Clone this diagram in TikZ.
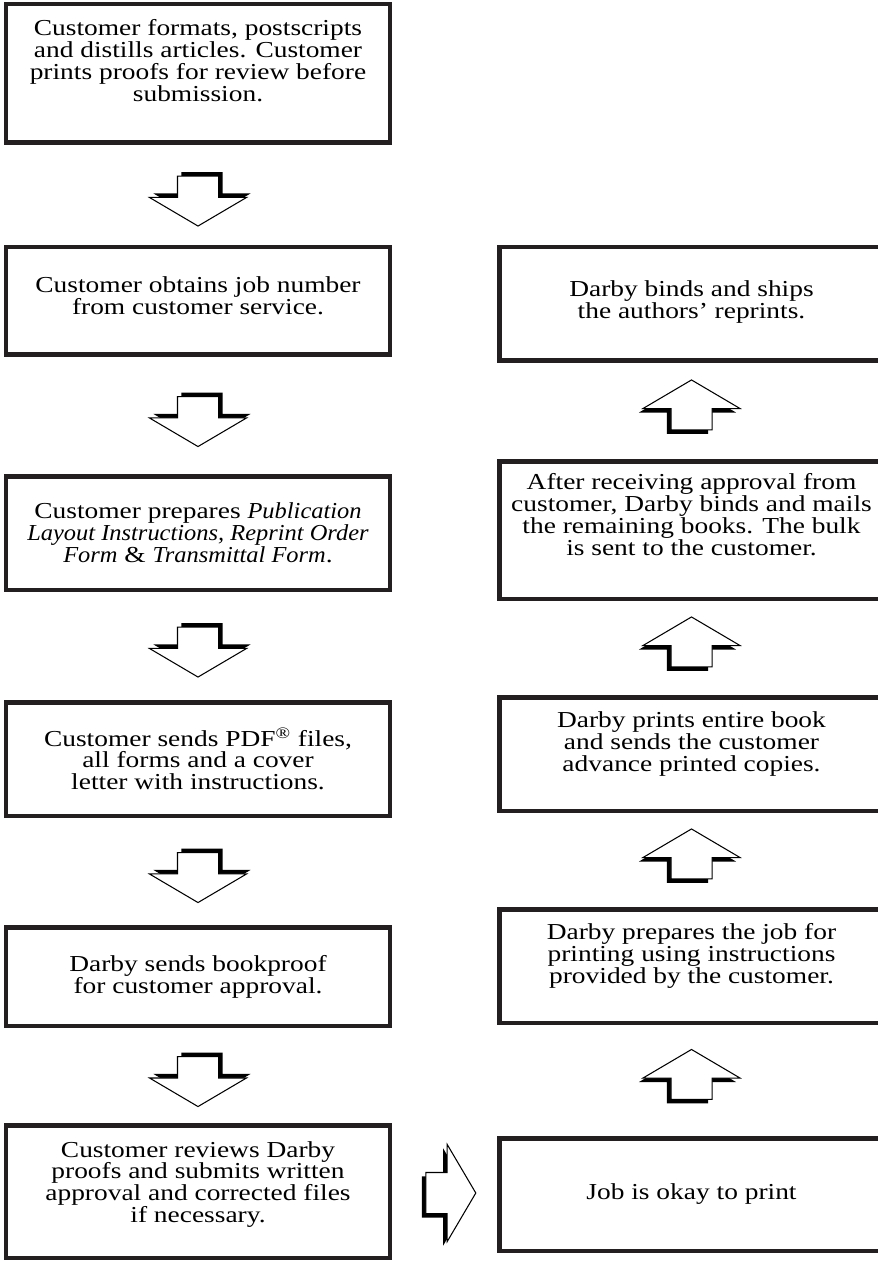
\documentclass[tikz,border=0pt]{standalone}
\usepackage{fontspec}
\setmainfont{Liberation Serif}[FakeStretch=1.2, ItalicFeatures={FakeStretch=1.07}]
\usetikzlibrary{shapes.arrows, shadows, calc}
\definecolor{boxline}{RGB}{35,31,32}
\tikzset{
    my-step-box/.style={
        draw=boxline, line width=0.09cm, minimum width=7.68cm, inner sep=0pt
    },
    my-step-text/.style={
        inner sep=0pt, align=center, font=\fontsize{13}{12.5}\selectfont
    },
    my-big-arrow/.style={
        single arrow, draw=black, fill=white, line width=0.6pt,
        minimum height=1cm, minimum width=1.92cm,
        single arrow head extend=0.56cm, single arrow tip angle=119
    },
    my-down-arrow/.style={
        my-big-arrow, shape border rotate=270, inner xsep=0.4cm, inner ysep=0.22cm,
        drop shadow={shadow xshift=0.08cm, shadow yshift=0.08cm, fill=black, opacity=1}
    },
    my-up-arrow/.style={
        my-big-arrow, shape border rotate=90, inner xsep=0.4cm, inner ysep=0.22cm,
        drop shadow={shadow xshift=-0.08cm, shadow yshift=-0.08cm, fill=black, opacity=1}
    },
    my-right-arrow/.style={
        my-big-arrow, shape border rotate=0, inner xsep=0.22cm, inner ysep=0.4cm,
        drop shadow={shadow xshift=-0.08cm, shadow yshift=-0.08cm, fill=black, opacity=1}
    },
}

\begin{document}
\begin{tikzpicture}

        \clip (0,0) rectangle (17.56,-25.24);

        % LEFT COLUMN, CUSTOMER STEPS
        \node[my-step-box, minimum height=2.77cm] (L1) at (3.96,-1.47) {};
        \node[my-step-box, minimum height=2.15cm] (L2) at (3.96,-6.02) {};
        \node[my-step-box, minimum height=2.27cm] (L3) at (3.96,-10.66) {};
        \node[my-step-box, minimum height=2.27cm] (L4) at (3.96,-15.18) {};
        \node[my-step-box, minimum height=1.97cm] (L5) at (3.96,-19.53) {};
        \node[my-step-box, minimum height=2.65cm] (L6) at (3.96,-23.83) {};

        \node[my-step-text] (L1text) at ($(L1.center) + (0,0.26)$)
            {Customer formats, postscripts\\and distills articles. Customer\\prints proofs for review before\\submission.};
        \node[my-step-text] (L2text) at ($(L2.center) + (0,0.1)$)
            {Customer obtains job number\\from customer service.};
        \node[my-step-text] (L3text) at (L3.center)
            {Customer prepares \textit{Publication}\\\textit{Layout Instructions, Reprint Order}\\\textit{Form} \& \textit{Transmittal Form}.};
        \node[my-step-text] (L4text) at (L4.center)
            {Customer sends PDF\textsuperscript{\textregistered} files,\\all forms and a cover\\letter with instructions.};
        \node[my-step-text] (L5text) at (L5.center)
            {Darby sends bookproof\\for customer approval.};
        \node[my-step-text] (L6text) at ($(L6.center) + (0,0.14)$)
            {Customer reviews Darby\\proofs and submits written\\approval and corrected files\\if necessary.};

        % RIGHT COLUMN, DARBY STEPS
        \node[my-step-box, minimum height=2.27cm] (R1) at (13.83,-6.08) {};
        \node[my-step-box, minimum height=2.75cm] (R2) at (13.83,-10.60) {};
        \node[my-step-box, minimum height=2.27cm] (R3) at (13.83,-15.08) {};
        \node[my-step-box, minimum height=2.27cm] (R4) at (13.83,-19.32) {};
        \node[my-step-box, minimum height=2.25cm] (R5) at (13.83,-23.89) {};

        \node[my-step-text] (R1text) at ($(R1.center) + (0,0.04)$)
            {Darby binds and ships\\the authors' reprints.};
        \node[my-step-text] (R2text) at ($(R2.center) + (0,0.30)$)
            {After receiving approval from\\customer, Darby binds and mails\\the remaining books. The bulk\\is sent to the customer.};
        \node[my-step-text] (R3text) at ($(R3.center) + (0,0.20)$)
            {Darby prints entire book\\and sends the customer\\advance printed copies.};
        \node[my-step-text] (R4text) at ($(R4.center) + (0,0.20)$)
            {Darby prepares the job for\\printing using instructions\\provided by the customer.};
        \node[my-step-text] (R5text) at (R5.center)
            {Job is okay to print};

        % DOWN ARROWS
        \node[my-down-arrow] (D1) at ($(L1.south)!0.5!(L2.north)$) {};
        \node[my-down-arrow] (D2) at ($(L2.south)!0.5!(L3.north)$) {};
        \node[my-down-arrow] (D3) at ($(L3.south)!0.5!(L4.north)$) {};
        \node[my-down-arrow] (D4) at ($(L4.south)!0.5!(L5.north)$) {};
        \node[my-down-arrow] (D5) at ($(L5.south)!0.5!(L6.north)$) {};

        % ACROSS
        \node[my-right-arrow] (A1) at ($(L6.east)!0.5!(R5.west)$) {};

        % UP ARROWS
        \node[my-up-arrow] (U1) at ($(R5.north)!0.5!(R4.south)$) {};
        \node[my-up-arrow] (U2) at ($(R4.north)!0.5!(R3.south)$) {};
        \node[my-up-arrow] (U3) at ($(R3.north)!0.5!(R2.south)$) {};
        \node[my-up-arrow] (U4) at ($(R2.north)!0.5!(R1.south)$) {};

    \end{tikzpicture}
\end{document}
